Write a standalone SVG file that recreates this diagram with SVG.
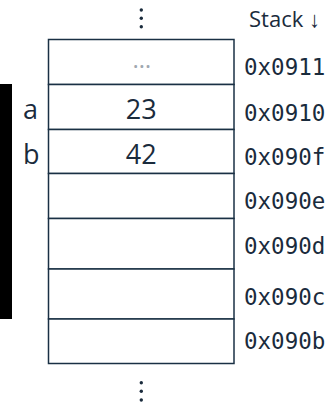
<svg xmlns="http://www.w3.org/2000/svg" width="336" height="404" viewBox="0 0 336 404">
<style>
.cell{fill:#ffffff;stroke:#1a3044;stroke-width:1.5}
.addr{font-family:"DejaVu Sans Mono",monospace;font-size:22.5px;fill:#1a2b3c}
.lbl{font-family:"Open Sans","Noto Sans",sans-serif;font-size:27px;fill:#1a2b3c}
.val{font-family:"Open Sans","Noto Sans",sans-serif;font-size:27px;fill:#1a2b3c;text-anchor:middle}
.dot{fill:#1a2b3c}
</style>
<rect width="336" height="404" fill="#ffffff"/>
<rect id="bar" x="0" y="84" width="12" height="235" fill="#000000"/>
<g id="dots-top">
<circle class="dot" cx="141.3" cy="10" r="1.7"/>
<circle class="dot" cx="141.3" cy="18.3" r="1.7"/>
<circle class="dot" cx="141.3" cy="26.7" r="1.7"/>
</g>
<text x="249" y="27" style="font-family:'Open Sans','Noto Sans',sans-serif;font-size:22px;fill:#1a2b3c">Stack ↓</text>
<g id="cell-0911">
<rect class="cell" x="48.5" y="39.5" width="185.5" height="45"/>
<text x="141.8" y="68" style="font-family:'Open Sans',sans-serif;font-size:24px;fill:#a0a8b0;text-anchor:middle">…</text>
<text class="addr" x="244" y="75">0x0911</text>
</g>
<g id="cell-0910">
<rect class="cell" x="48.5" y="84.5" width="185.5" height="45"/>
<text class="lbl" x="23" y="118.5">a</text>
<text class="val" x="141.3" y="118.5">23</text>
<text class="addr" x="244" y="120.5">0x0910</text>
</g>
<g id="cell-090f">
<rect class="cell" x="48.5" y="129.5" width="185.5" height="44"/>
<text class="lbl" x="23" y="163.5">b</text>
<text class="val" x="141.3" y="163.5">42</text>
<text class="addr" x="244" y="165">0x090f</text>
</g>
<g id="cell-090e">
<rect class="cell" x="48.5" y="173.5" width="185.5" height="45"/>
<text class="addr" x="244" y="209">0x090e</text>
</g>
<g id="cell-090d">
<rect class="cell" x="48.5" y="218.5" width="185.5" height="50.5"/>
<text class="addr" x="244" y="254">0x090d</text>
</g>
<g id="cell-090c">
<rect class="cell" x="48.5" y="269" width="185.5" height="50"/>
<text class="addr" x="244" y="305">0x090c</text>
</g>
<g id="cell-090b">
<rect class="cell" x="48.5" y="319" width="185.5" height="44.5"/>
<text class="addr" x="244" y="349">0x090b</text>
</g>
<g id="dots-bottom">
<circle class="dot" cx="141.3" cy="382.7" r="1.7"/>
<circle class="dot" cx="141.3" cy="391.3" r="1.7"/>
<circle class="dot" cx="141.3" cy="400" r="1.7"/>
</g>
</svg>
